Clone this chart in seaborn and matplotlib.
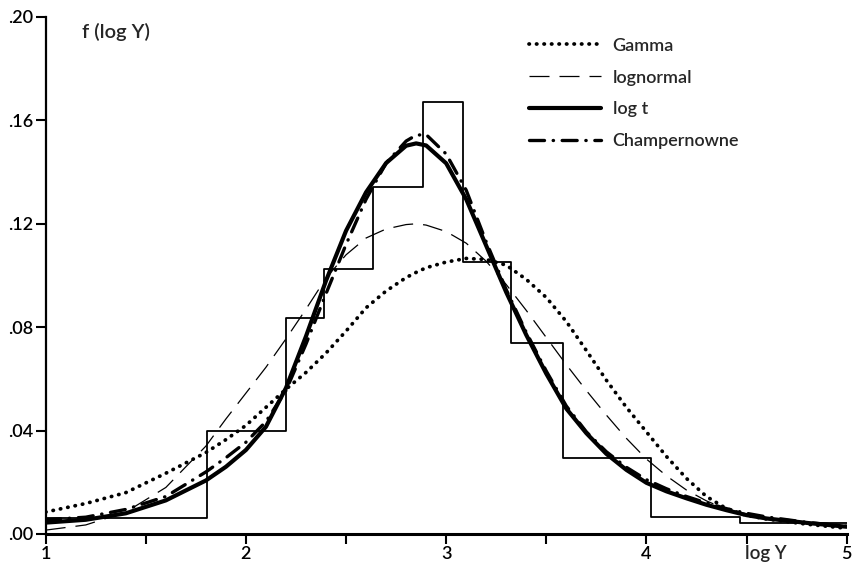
import matplotlib
matplotlib.use("Agg")
import matplotlib.pyplot as plt
import seaborn as sns

# histogram of log income (irregular class widths)
bin_edges = [1.0, 1.806, 2.20, 2.39, 2.635, 2.885, 3.085, 3.325, 3.584, 4.024, 4.468, 5.0]
bin_heights = [0.0062, 0.0398, 0.0834, 0.1027, 0.1344, 0.1672, 0.1054, 0.0737, 0.0293, 0.0066, 0.0042]

# fitted densities
log_y = [1.0, 1.2, 1.4, 1.6, 1.8, 1.9, 2.0, 2.1, 2.2, 2.3, 2.4, 2.5, 2.6, 2.7, 2.8, 2.85, 2.9,
         3.0, 3.1, 3.2, 3.3, 3.4, 3.5, 3.6, 3.7, 3.8, 3.9, 4.0, 4.1, 4.2, 4.3, 4.4, 4.5, 4.6,
         4.8, 5.0]
gamma = [0.0085, 0.0118, 0.016, 0.0235, 0.0315, 0.0365, 0.042, 0.049, 0.056, 0.0625, 0.070,
         0.0785, 0.0875, 0.094, 0.0992, 0.1012, 0.103, 0.1052, 0.1066, 0.1062, 0.104, 0.0985,
         0.0915, 0.0822, 0.071, 0.0595, 0.049, 0.0395, 0.030, 0.0215, 0.0145, 0.0098, 0.0072,
         0.0058, 0.0038, 0.0022]
lognormal = [0.0015, 0.0035, 0.0085, 0.018, 0.034, 0.0445, 0.0545, 0.0645, 0.0755, 0.087,
             0.099, 0.108, 0.1145, 0.118, 0.1197, 0.1200, 0.1195, 0.117, 0.1125, 0.1055,
             0.0965, 0.0865, 0.076, 0.0655, 0.0555, 0.046, 0.037, 0.029, 0.0225, 0.017, 0.0128,
             0.0095, 0.0073, 0.006, 0.0042, 0.003]
log_t = [0.0044, 0.0055, 0.008, 0.013, 0.0207, 0.026, 0.0325, 0.0415, 0.0565, 0.0765, 0.098,
         0.1173, 0.1322, 0.1435, 0.1502, 0.1511, 0.1503, 0.1434, 0.1295, 0.1115, 0.0935,
         0.077, 0.062, 0.0485, 0.039, 0.031, 0.0248, 0.0198, 0.0165, 0.0138, 0.0113, 0.0092,
         0.0073, 0.006, 0.0043, 0.0028]
champernowne = [0.0055, 0.0065, 0.0095, 0.0145, 0.024, 0.0295, 0.0355, 0.0435, 0.0555, 0.0735,
                0.093, 0.112, 0.1295, 0.1435, 0.152, 0.1543, 0.1545, 0.147, 0.133, 0.113,
                0.0945, 0.078, 0.063, 0.0495, 0.0395, 0.0318, 0.0258, 0.021, 0.0175, 0.0145,
                0.012, 0.0098, 0.008, 0.0066, 0.0045, 0.003]

x_ticks = [1, 2, 3, 4, 5]
x_minor = [1.5, 2.5, 3.5, 4.5]
y_ticks = [0.0, 0.04, 0.08, 0.12, 0.16, 0.20]
y_labels = ['.00', '.04', '.08', '.12', '.16', '.20']

sns.set_style("ticks")
plt.rcParams['font.family'] = ['Lato', 'DejaVu Sans']
plt.rcParams['font.size'] = 13
plt.rcParams['font.weight'] = 'semibold'

fig = plt.figure(figsize=(8.54, 5.74), dpi=100)
ax = fig.add_axes([0.0535, 0.0697, 0.9379, 0.9007])

#histogram as a step outline
mids = [(a + b) / 2 for a, b in zip(bin_edges[:-1], bin_edges[1:])]
sns.histplot(x=mids, weights=bin_heights, bins=bin_edges, element='step', fill=False,
             color='black', linewidth=1.3, ax=ax)

#the four fitted curves
sns.lineplot(x=log_y, y=gamma, color='black', linewidth=2.7,
             linestyle=(0, (0.1, 1.9)), dash_capstyle='round', label='Gamma', ax=ax)
sns.lineplot(x=log_y, y=lognormal, color='black', linewidth=0.9,
             linestyle=(0, (16, 8)), label='lognormal', ax=ax)
sns.lineplot(x=log_y, y=log_t, color='black', linewidth=3.0,
             linestyle='-', label='log t', ax=ax)
sns.lineplot(x=log_y, y=champernowne, color='black', linewidth=2.4,
             linestyle=(0, (4.5, 2.6, 0.1, 2.6)), dash_capstyle='round',
             label='Champernowne', ax=ax)

ax.set_xlim(1, 5)
ax.set_ylim(0, 0.20)
ax.set_xticks(x_ticks)
ax.set_xticks(x_minor, minor=True)
ax.set_yticks(y_ticks)
ax.set_yticklabels(y_labels)
ax.set_xlabel('')
ax.set_ylabel('')
ax.tick_params(axis='both', which='both', length=7, width=1.5, direction='out',
               color='black', labelsize=13, labelcolor='black')
ax.tick_params(axis='x', pad=2)
ax.tick_params(axis='y', pad=2)
sns.despine(ax=ax)
ax.spines['left'].set_linewidth(1.6)
ax.spines['bottom'].set_linewidth(2.2)
ax.spines['left'].set_color('black')
ax.spines['bottom'].set_color('black')

ax.text(0.045, 0.971, 'f (log Y)', transform=ax.transAxes, ha='left', va='center', fontsize=14.5)
ax.text(4.49, -0.037, 'log Y', transform=ax.get_xaxis_transform(), ha='left', va='center',
        fontsize=13.5)

leg = ax.legend(loc='upper left', bbox_to_anchor=(0.603, 0.96), frameon=False,
                handlelength=4.0, handletextpad=0.65, labelspacing=0.88, fontsize=13,
                borderpad=0, borderaxespad=0)

fig.savefig('out.png', dpi=100, facecolor='white')
